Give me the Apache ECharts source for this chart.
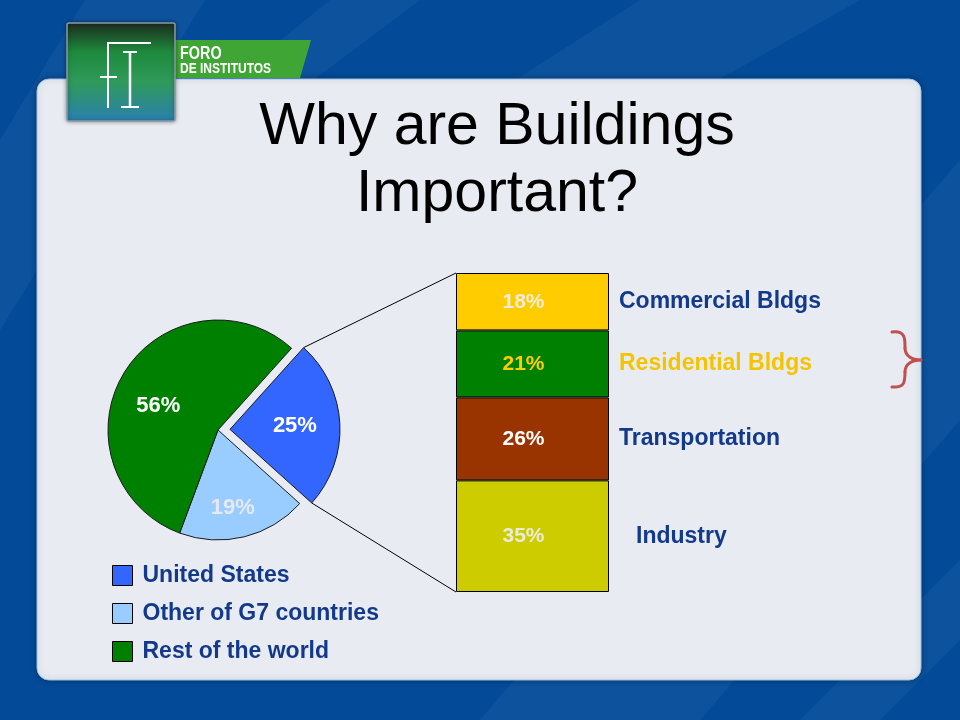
<!DOCTYPE html>
<html>
<head>
<meta charset="utf-8">
<script src="https://cdn.jsdelivr.net/npm/echarts@6/dist/echarts.min.js"></script>
<style>html,body{margin:0;padding:0;background:#034b99;}#c{width:960px;height:720px;}</style>
</head>
<body>
<div id="c"></div>
<script>
// ---- data ----
const pieNames = ['United States', 'Other of G7 countries', 'Rest of the world'];
const pieValues = [25, 19, 56];
const pieLabels = ['25%', '19%', '56%'];
const barNames = ['Industry', 'Transportation', 'Residential Bldgs', 'Commercial Bldgs'];
const barValues = [35, 26, 21, 18];
const barLabels = ['35%', '26%', '21%', '18%'];
const titleLines = ['Why are Buildings', 'Important?'];

// ---- styles ----
const FONT = '"Liberation Sans", Arial, sans-serif';
const pieColors = ['#3366ff', '#99ccff', '#008000'];
const pieLabelColors = ['#ffffff', '#e6e9ee', '#ffffff'];
const pieLabelOffsets = [[16, 5], [1, 22], [-10, 6]];
const pieLabelPads = [[6, 0, 0, 14], 0, 0];
const barColors = ['#cccc00', '#993300', '#008000', '#ffcc00'];
const barValueColors = ['#ebebd9', '#ffffff', '#ffcc00', '#f3ecdc'];
const barNameColors = ['#12398a', '#12398a', '#f5c400', '#12398a'];
const barNameOffsets = [[17, 0], [0, 0], [0, 0], [0, 0]];

const pieCenter = [218, 430], pieR = 110, pieStart = 48, pieOffset = 12;
const gridL = 456, gridT = 273, gridH = 319, bandW = 153;

// connector line endpoints derived from pie geometry
const total = pieValues.reduce((a, b) => a + b, 0);
const usSpan = pieValues[0] / total * 360;
const midA = (pieStart - usSpan / 2) * Math.PI / 180;
const tip = [pieCenter[0] + pieOffset * Math.cos(midA), pieCenter[1] - pieOffset * Math.sin(midA)];
const aTop = pieStart * Math.PI / 180, aBot = (pieStart - usSpan) * Math.PI / 180;
const pTop = [tip[0] + pieR * Math.cos(aTop), tip[1] - pieR * Math.sin(aTop)];
const pBot = [tip[0] + pieR * Math.cos(aBot), tip[1] - pieR * Math.sin(aBot)];

const chart = echarts.init(document.getElementById('c'), null, {renderer: 'canvas'});

const barSeries = barValues.map((v, i) => ({
  type: 'bar', name: barNames[i], stack: 'total', barCategoryGap: '0%', barWidth: bandW,
  silent: true, z: 3,
  data: [
    {value: v, itemStyle: {color: barColors[i], borderColor: '#000', borderWidth: 1},
     label: {show: true, position: 'inside', offset: [-9, 0], formatter: barLabels[i],
             color: barValueColors[i], fontSize: 21, fontWeight: 'bold', fontFamily: FONT}},
    {value: v, itemStyle: {color: 'rgba(0,0,0,0)'},
     label: {show: true, position: 'insideLeft', distance: 10, offset: barNameOffsets[i],
             formatter: barNames[i], color: barNameColors[i], fontSize: 23, fontWeight: 'bold', fontFamily: FONT}}
  ]
}));

const stripe = 'rgba(255,255,255,0.045)';
const option = {
  backgroundColor: '#034b99',
  animation: false,
  legend: {
    data: pieNames, orient: 'vertical', left: 112, top: 564, padding: 0,
    itemWidth: 20, itemHeight: 20, itemGap: 15, icon: 'rect',
    itemStyle: {borderColor: '#000', borderWidth: 1},
    textStyle: {fontSize: 23, fontWeight: 'bold', color: '#12398a', fontFamily: FONT, padding: [0, 0, 0, 5]},
    selectedMode: false
  },
  grid: {left: gridL, top: gridT, width: bandW * 2, height: gridH},
  xAxis: {type: 'category', data: ['bar', 'names'], show: false},
  yAxis: {type: 'value', min: 0, max: 100, show: false},
  series: [
    {
      type: 'pie', center: pieCenter, radius: pieR, startAngle: pieStart, clockwise: true,
      selectedMode: 'single', selectedOffset: pieOffset, silent: true, z: 3,
      itemStyle: {borderColor: '#1a1a1a', borderWidth: 1},
      data: pieValues.map((v, i) => ({
        name: pieNames[i], value: v, selected: i === 0,
        itemStyle: {color: pieColors[i]},
        label: {show: true, position: 'inside', formatter: pieLabels[i], offset: pieLabelOffsets[i],
                padding: pieLabelPads[i],
                color: pieLabelColors[i], fontSize: 22, fontWeight: 'bold', fontFamily: FONT}
      })),
      labelLine: {show: false}
    },
    ...barSeries
  ],
  graphic: [
    // background stripes
    {type: 'polygon', z: -10, shape: {points: [[85, 0], [205, 0], [0, 330], [0, 140]]}, style: {fill: stripe}},
    {type: 'polygon', z: -10, shape: {points: [[330, 0], [420, 0], [300, 90], [220, 90]]}, style: {fill: stripe}},
    {type: 'polygon', z: -10, shape: {points: [[640, 0], [860, 0], [700, 90], [500, 90]]}, style: {fill: stripe}},
    {type: 'polygon', z: -10, shape: {points: [[960, 160], [960, 420], [700, 720], [480, 720]]}, style: {fill: stripe}},
    {type: 'polygon', z: -10, shape: {points: [[960, 560], [960, 640], [880, 720], [800, 720]]}, style: {fill: stripe}},
    // panel
    {type: 'rect', z: -5, shape: {x: 37, y: 79, width: 884, height: 601, r: 12},
     style: {fill: '#e8ecf2', stroke: '#9cc0e6', lineWidth: 1, shadowBlur: 6, shadowColor: 'rgba(0,0,0,0.3)'}},
    // title
    {type: 'text', z: 5, style: {text: titleLines[0], x: 497, y: 128, textAlign: 'center', textVerticalAlign: 'middle', fill: '#000', font: 'normal 59px "Liberation Sans", Arial, sans-serif'}},
    {type: 'text', z: 5, style: {text: titleLines[1], x: 497, y: 195, textAlign: 'center', textVerticalAlign: 'middle', fill: '#000', font: 'normal 59px "Liberation Sans", Arial, sans-serif'}},
    // logo tab
    {type: 'polygon', z: 1, shape: {points: [[170, 40], [311, 40], [300, 78], [170, 78]]}, style: {fill: '#3fa535'}},
    {type: 'text', z: 2, x: 180, y: 54, scaleX: 0.8, style: {text: 'FORO', x: 0, y: 0, fill: '#fff', font: 'bold 18px "Liberation Sans", sans-serif', textVerticalAlign: 'middle'}},
    {type: 'text', z: 2, x: 180, y: 69, scaleX: 0.8, style: {text: 'DE INSTITUTOS', x: 0, y: 0, fill: '#fff', font: 'bold 15px "Liberation Sans", sans-serif', textVerticalAlign: 'middle'}},
    // logo box
    {type: 'rect', z: 2, shape: {x: 67, y: 23, width: 108, height: 98, r: 2},
     style: {fill: new echarts.graphic.LinearGradient(0, 0, 0, 1, [
       {offset: 0, color: '#1c2a1e'}, {offset: 0.3, color: '#1e8a3c'}, {offset: 0.6, color: '#2f9a5a'}, {offset: 1, color: '#2a7fb0'}]),
       stroke: '#8a9aa8', lineWidth: 1.5, shadowBlur: 4, shadowColor: 'rgba(0,0,0,0.4)'}},
    {type: 'polyline', z: 3, shape: {points: [[151, 43], [108, 43], [108, 108]]}, style: {stroke: '#fff', lineWidth: 2, fill: null}},
    {type: 'line', z: 3, shape: {x1: 100, y1: 77, x2: 117, y2: 77}, style: {stroke: '#fff', lineWidth: 2}},
    {type: 'line', z: 3, shape: {x1: 130, y1: 52, x2: 130, y2: 108}, style: {stroke: '#fff', lineWidth: 2.5}},
    {type: 'line', z: 3, shape: {x1: 123, y1: 52, x2: 137, y2: 52}, style: {stroke: '#fff', lineWidth: 2}},
    {type: 'line', z: 3, shape: {x1: 121, y1: 107, x2: 139, y2: 107}, style: {stroke: '#fff', lineWidth: 2}},
    // connector lines
    {type: 'line', z: 2, shape: {x1: pTop[0], y1: pTop[1], x2: gridL, y2: gridT}, style: {stroke: '#000', lineWidth: 1}},
    {type: 'line', z: 2, shape: {x1: pBot[0], y1: pBot[1], x2: gridL, y2: gridT + gridH}, style: {stroke: '#000', lineWidth: 1}},
    // brace
    {type: 'bezierCurve', z: 2, shape: {x1: 892, y1: 332, cpx1: 906, cpy1: 330, cpx2: 905, cpy2: 340, x2: 905, y2: 348}, style: {stroke: '#c0504d', lineWidth: 3, fill: null, lineCap: 'round'}},
    {type: 'bezierCurve', z: 2, shape: {x1: 905, y1: 348, cpx1: 905, cpy1: 356, cpx2: 912, cpy2: 360, x2: 921, y2: 360}, style: {stroke: '#c0504d', lineWidth: 3, fill: null, lineCap: 'round'}},
    {type: 'bezierCurve', z: 2, shape: {x1: 921, y1: 360, cpx1: 912, cpy1: 360, cpx2: 905, cpy2: 364, x2: 905, y2: 372}, style: {stroke: '#c0504d', lineWidth: 3, fill: null, lineCap: 'round'}},
    {type: 'bezierCurve', z: 2, shape: {x1: 905, y1: 372, cpx1: 905, cpy1: 383, cpx2: 904, cpy2: 388, x2: 892, y2: 387}, style: {stroke: '#c0504d', lineWidth: 3, fill: null, lineCap: 'round'}}
  ]
};
chart.setOption(option);
</script>
</body>
</html>
